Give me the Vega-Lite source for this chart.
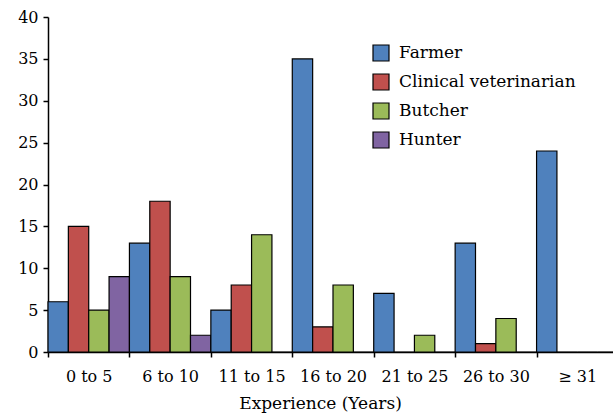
{
  "$schema": "https://vega.github.io/schema/vega-lite/v6.json",
  "autosize": {"type": "none"},
  "padding": {"left": 48, "top": 17, "right": 0, "bottom": 64},
  "width": 570,
  "height": 335,
  "background": "white",
  "config": {
    "font": "DejaVu Serif",
    "view": {"stroke": null},
    "axis": {"domainColor": "black", "tickColor": "black", "labelColor": "black", "titleColor": "black", "grid": false, "labelFont": "DejaVu Serif", "titleFont": "DejaVu Serif", "labelFontSize": 17, "titleFontSize": 17, "titleFontWeight": "normal", "tickSize": 5, "domainWidth": 1.5, "tickWidth": 1.5}
  },
  "data": {
    "values": [
      {"exp": "0 to 5", "occ": "Farmer", "n": 6},
      {"exp": "0 to 5", "occ": "Clinical veterinarian", "n": 15},
      {"exp": "0 to 5", "occ": "Butcher", "n": 5},
      {"exp": "0 to 5", "occ": "Hunter", "n": 9},
      {"exp": "6 to 10", "occ": "Farmer", "n": 13},
      {"exp": "6 to 10", "occ": "Clinical veterinarian", "n": 18},
      {"exp": "6 to 10", "occ": "Butcher", "n": 9},
      {"exp": "6 to 10", "occ": "Hunter", "n": 2},
      {"exp": "11 to 15", "occ": "Farmer", "n": 5},
      {"exp": "11 to 15", "occ": "Clinical veterinarian", "n": 8},
      {"exp": "11 to 15", "occ": "Butcher", "n": 14},
      {"exp": "11 to 15", "occ": "Hunter", "n": 0},
      {"exp": "16 to 20", "occ": "Farmer", "n": 35},
      {"exp": "16 to 20", "occ": "Clinical veterinarian", "n": 3},
      {"exp": "16 to 20", "occ": "Butcher", "n": 8},
      {"exp": "16 to 20", "occ": "Hunter", "n": 0},
      {"exp": "21 to 25", "occ": "Farmer", "n": 7},
      {"exp": "21 to 25", "occ": "Clinical veterinarian", "n": 0},
      {"exp": "21 to 25", "occ": "Butcher", "n": 2},
      {"exp": "21 to 25", "occ": "Hunter", "n": 0},
      {"exp": "26 to 30", "occ": "Farmer", "n": 13},
      {"exp": "26 to 30", "occ": "Clinical veterinarian", "n": 1},
      {"exp": "26 to 30", "occ": "Butcher", "n": 4},
      {"exp": "26 to 30", "occ": "Hunter", "n": 0},
      {"exp": "≥ 31", "occ": "Farmer", "n": 24},
      {"exp": "≥ 31", "occ": "Clinical veterinarian", "n": 0},
      {"exp": "≥ 31", "occ": "Butcher", "n": 0},
      {"exp": "≥ 31", "occ": "Hunter", "n": 0}
    ]
  },
  "mark": {"type": "bar", "stroke": "black", "strokeWidth": 1.2},
  "encoding": {
    "x": {
      "field": "exp", "type": "nominal", "sort": null,
      "scale": {"paddingInner": 0, "paddingOuter": 0},
      "axis": {"title": "Experience (Years)", "labelAngle": 0, "tickBand": "extent", "labelPadding": 11, "labelFontSize": 16, "titlePadding": 11, "titleX": 272}
    },
    "xOffset": {
      "field": "occ", "type": "nominal",
      "scale": {"domain": ["Farmer", "Clinical veterinarian", "Butcher", "Hunter"], "paddingInner": 0, "paddingOuter": 0}
    },
    "y": {
      "field": "n", "type": "quantitative",
      "scale": {"domain": [0, 40], "nice": false},
      "axis": {"title": null, "values": [0, 5, 10, 15, 20, 25, 30, 35, 40], "labelPadding": 5, "labelFontSize": 16}
    },
    "color": {
      "field": "occ", "type": "nominal",
      "scale": {"domain": ["Farmer", "Clinical veterinarian", "Butcher", "Hunter"], "range": ["#4F81BD", "#C0504D", "#9BBB59", "#8064A2"]},
      "legend": {"title": null, "orient": "none", "legendX": 324, "legendY": 27, "symbolType": "square", "symbolSize": 256, "symbolStrokeColor": "black", "symbolStrokeWidth": 1.2, "symbolOpacity": 1, "labelFontSize": 17, "labelLimit": 400, "labelColor": "black", "labelFont": "DejaVu Serif", "rowPadding": 7, "labelOffset": 9}
    }
  }
}
